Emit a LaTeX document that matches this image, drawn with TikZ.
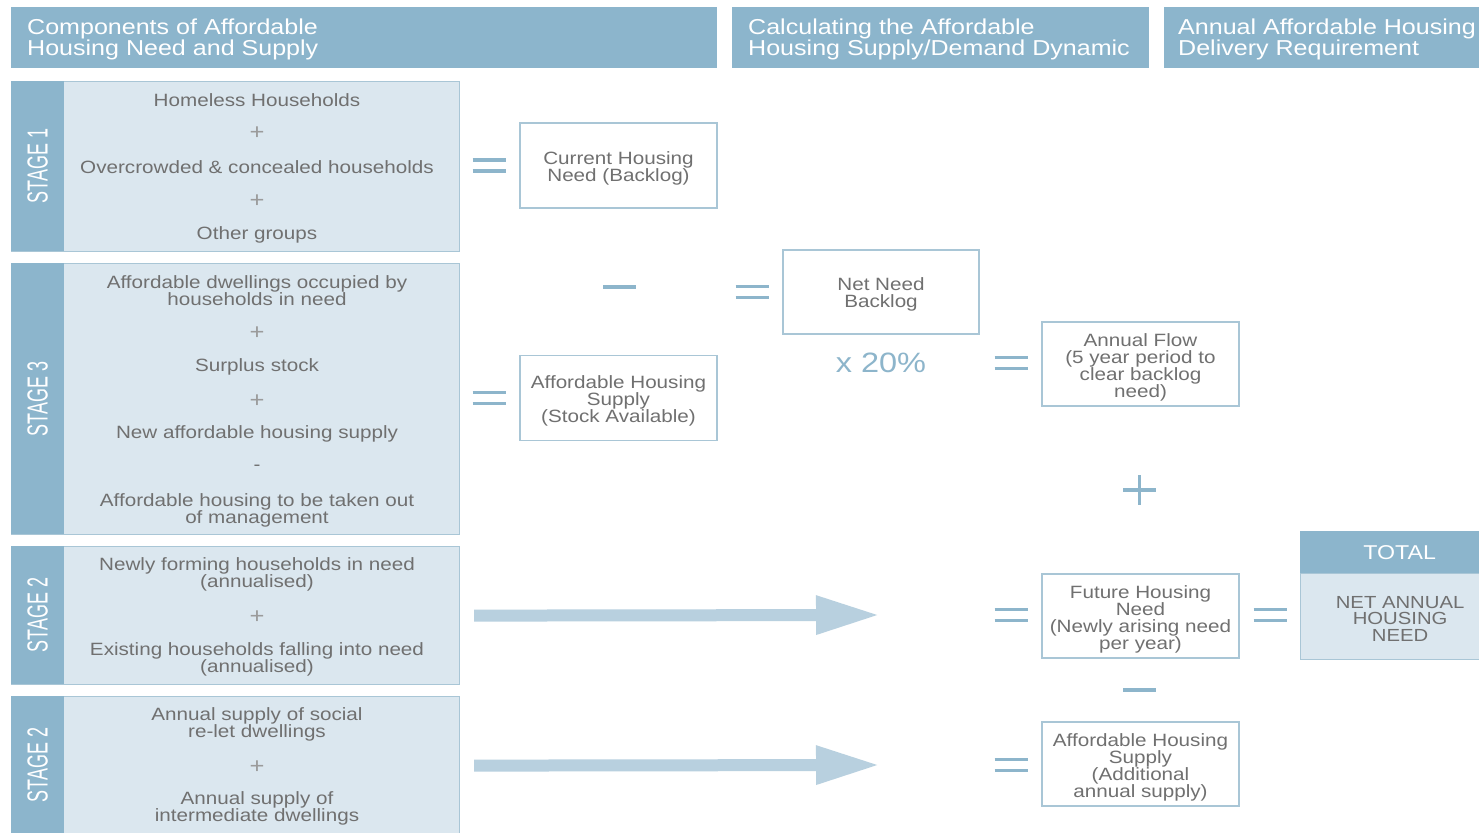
\documentclass[tikz,border=0pt]{standalone}
\usepackage{fontspec}
\setmainfont{Liberation Sans}[FakeStretch=1.16]
\newfontfamily\stagefont{Liberation Sans}[FakeStretch=0.62]
\usetikzlibrary{arrows.meta}
\definecolor{hdr}{HTML}{8CB5CC}
\definecolor{lite}{HTML}{DBE7EF}
\definecolor{edge}{HTML}{A9C6D6}
\definecolor{txt}{HTML}{707070}
\definecolor{sym}{HTML}{8DB5CB}
\definecolor{arr}{HTML}{B8D0DF}
\begin{document}
\setlength{\lineskiplimit}{-20pt}
\begin{tikzpicture}[x=1pt,y=-1pt,
  hdrbox/.style={fill=hdr,draw=none,anchor=north west,inner sep=0,minimum height=61pt},
  hdrtxt/.style={anchor=west,inner sep=0,text=white,align=left,font=\fontsize{21.6}{21}\selectfont},
  stagebox/.style={fill=lite,draw=edge,line width=1.2pt,anchor=north west,inner sep=0,minimum width=448pt},
  band/.style={fill=hdr,anchor=north west,inner sep=0,minimum width=53pt},
  stagelbl/.style={rotate=90,text=white,inner sep=0,font=\stagefont\fontsize{29}{29}\selectfont},
  body/.style={text=txt,inner sep=0,align=center,font=\fontsize{17.8}{17}\selectfont},
  op/.style={text=txt!70,inner sep=0,font=\fontsize{22}{22}\selectfont},
  whitebox/.style={draw=edge,line width=1.2pt,fill=white,minimum width=197pt,minimum height=85pt,inner sep=0},
  symline/.style={draw=sym,line width=3.2pt},
  eqsign/.pic={\draw[symline] (-16.5,-5.5)--(16.5,-5.5) (-16.5,5.5)--(16.5,5.5);},
  minsign/.pic={\draw[symline] (-16.5,0)--(16.5,0);},
  plussign/.pic={\draw[symline] (-16.5,0)--(16.5,0) (0,-15)--(0,15);},
  bigarrow/.style={draw=arr,line width=12pt,-{Triangle[length=64pt,width=36pt]}}
]
\useasboundingbox (0,0) rectangle (1479,832);
\clip (0,0) rectangle (1479,832);
\fill[white] (0,0) rectangle (1479,832);

% headers
\node[hdrbox,minimum width=706pt] (h1) at (11,7) {};
\node[hdrtxt] (h1t) at (27,39) {Components of Affordable\\Housing Need and Supply};
\node[hdrbox,minimum width=417pt] (h2) at (732,7) {};
\node[hdrtxt] (h2t) at (748,39) {Calculating the Affordable\\Housing Supply/Demand Dynamic};
\node[hdrbox,minimum width=330pt] (h3) at (1164,7) {};
\node[hdrtxt] (h3t) at (1178,39) {Annual Affordable Housing\\Delivery Requirement};

% stage 1
\node[stagebox,minimum height=170pt] (s1) at (11,81) {};
\node[band,minimum height=170pt] (s1b) at (11,81) {};
\node[stagelbl] (s1l) at (s1b.center) {STAGE 1};
\node[body] (s1t1) at (257,100) {Homeless Households};
\node[op] (s1p1) at (257,133) {+};
\node[body] (s1t2) at (257,167) {Overcrowded \& concealed households};
\node[op] (s1p2) at (257,201) {+};
\node[body] (s1t3) at (257,235) {Other groups};

% stage 3
\node[stagebox,minimum height=271pt] (s3) at (11,263) {};
\node[band,minimum height=271pt] (s3b) at (11,263) {};
\node[stagelbl] (s3l) at (s3b.center) {STAGE 3};
\node[body] (s3t1) at (257,291) {Affordable dwellings occupied by\\households in need};
\node[op] (s3p1) at (257,333) {+};
\node[body] (s3t2) at (257,367) {Surplus stock};
\node[op] (s3p2) at (257,401) {+};
\node[body] (s3t3) at (257,434) {New affordable housing supply};
\node[body] (s3m) at (257,468) {-};
\node[body] (s3t4) at (257,510) {Affordable housing to be taken out\\of management};

% stage 2 (a)
\node[stagebox,minimum height=138pt] (s2a) at (11,546) {};
\node[band,minimum height=138pt] (s2ab) at (11,546) {};
\node[stagelbl] (s2al) at (s2ab.center) {STAGE 2};
\node[body] (s2at1) at (257,574.5) {Newly forming households in need\\(annualised)};
\node[op] (s2ap) at (257,617) {+};
\node[body] (s2at2) at (257,659) {Existing households falling into need\\(annualised)};

% stage 2 (b)
\node[stagebox,minimum height=138pt] (s2b) at (11,696) {};
\node[band,minimum height=138pt] (s2bb) at (11,696) {};
\node[stagelbl] (s2bl) at (s2bb.center) {STAGE 2};
\node[body] (s2bt1) at (257,724) {Annual supply of social\\re-let dwellings};
\node[op] (s2bp) at (257,767) {+};
\node[body] (s2bt2) at (257,808) {Annual supply of\\intermediate dwellings};

% middle column
\pic at (489,165.5) {eqsign};
\node[whitebox] (cur) at (618.5,165.5) {};
\node[body] (curt) at ([yshift=-2.5pt]cur.center) {Current Housing\\Need (Backlog)};
\pic at (619.5,287) {minsign};
\pic at (752,292) {eqsign};
\node[whitebox,minimum width=196pt,minimum height=84pt] (net) at (881,292) {};
\node[body] (nett) at ([yshift=-2.5pt]net.center) {Net Need\\Backlog};
\pic at (489,398) {eqsign};
\node[whitebox] (sup) at (618.5,398) {};
\node[body] (supt) at ([yshift=-2.5pt]sup.center) {Affordable Housing\\Supply\\(Stock Available)};
\node[text=sym,inner sep=0,font=\fontsize{28}{28}\selectfont] (pct) at (881,363) {x 20\%};

% right column
\pic at (1011,363) {eqsign};
\node[whitebox,minimum height=84pt] (flow) at (1140.5,364) {};
\node[body] (flowt) at ([yshift=-3pt]flow.center) {Annual Flow\\(5 year period to\\clear backlog\\need)};
\pic at (1139.5,490) {plussign};
\pic at (1011,615) {eqsign};
\node[whitebox,minimum height=84pt] (fut) at (1140.5,616) {};
\node[body] (futt) at ([yshift=-3pt]fut.center) {Future Housing\\Need\\(Newly arising need\\per year)};
\pic at (1270,615) {eqsign};
\pic at (1139.5,690) {minsign};
\pic at (1011,765) {eqsign};
\node[whitebox,minimum height=84pt] (add) at (1140.5,764) {};
\node[body] (addt) at ([yshift=-3pt]add.center) {Affordable Housing\\Supply\\(Additional\\annual supply)};

% total
\node[fill=hdr,anchor=north west,inner sep=0,minimum width=199pt,minimum height=42pt,text=white,font=\fontsize{20}{20}\selectfont] (tot) at (1300,531) {TOTAL};
\node[fill=lite,draw=edge,line width=1.2pt,anchor=north west,inner sep=0,minimum width=199pt,minimum height=86pt] (nah) at (1300,573) {};
\node[body,font=\fontsize{17.5}{16.5}\selectfont] (naht) at ([yshift=-2pt]nah.center) {NET ANNUAL\\HOUSING\\NEED};

% arrows
\coordinate (a1s) at ([xshift=14pt]s2a.east);
\coordinate (a1e) at (880,615);
\coordinate (a2s) at ([xshift=14pt]s2b.east);
\coordinate (a2e) at (880,765);
\draw[bigarrow] (a1s) -- (a1e);
\draw[bigarrow] (a2s) -- (a2e);
\end{tikzpicture}
\end{document}
